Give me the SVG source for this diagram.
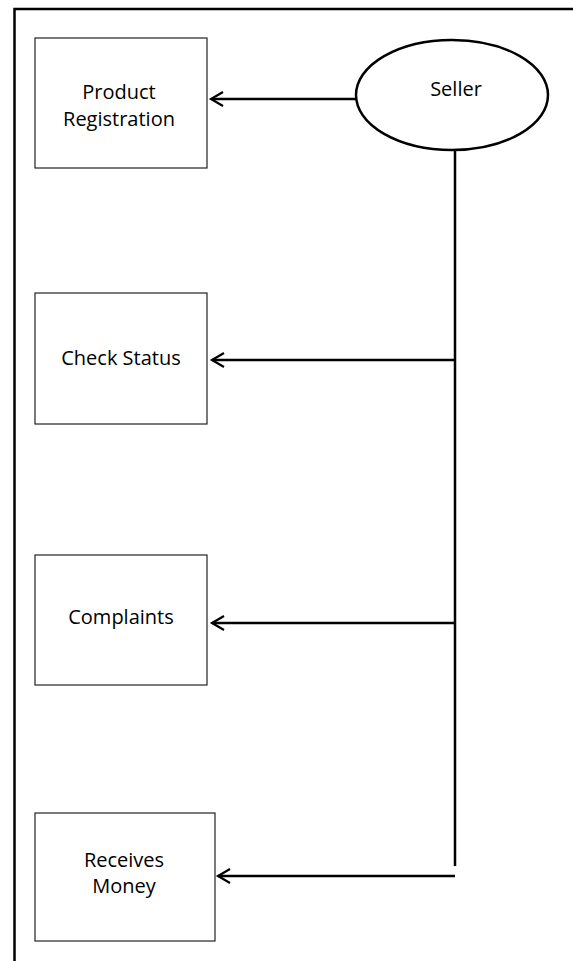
<svg xmlns="http://www.w3.org/2000/svg" width="573" height="961" viewBox="0 0 573 961">
<style>
.frame{fill:none;stroke:#000;stroke-width:2.5}
.box{fill:#fff;stroke:#222;stroke-width:1.2}
.ell{fill:#fff;stroke:#000;stroke-width:2.5}
.lbl{font-family:"Open Sans","Noto Sans",sans-serif;font-size:20px;fill:#000;text-anchor:middle}
.con{fill:none;stroke:#000;stroke-width:2.5}
</style>
<defs>
<marker id="arr" markerWidth="18" markerHeight="18" refX="14" refY="8" orient="auto" markerUnits="userSpaceOnUse">
<path d="M2,1 L14,8 L2,15" fill="none" stroke="#000" stroke-width="2.2"/>
</marker>
</defs>
<path class="frame" d="M14.5,961 L14.5,9 L573,9"/>
<g id="product-registration">
<rect class="box" x="35" y="38" width="172" height="130"/>
<text class="lbl" x="119" y="99">Product</text>
<text class="lbl" x="119" y="126">Registration</text>
</g>
<g id="seller">
<ellipse class="ell" cx="452" cy="95" rx="96" ry="55"/>
<text class="lbl" x="456" y="96">Seller</text>
</g>
<g id="check-status">
<rect class="box" x="35" y="293" width="172" height="131"/>
<text class="lbl" x="121" y="365">Check Status</text>
</g>
<g id="complaints">
<rect class="box" x="35" y="555" width="172" height="130"/>
<text class="lbl" x="121" y="624">Complaints</text>
</g>
<g id="receives-money">
<rect class="box" x="35" y="813" width="180" height="128"/>
<text class="lbl" x="124" y="867">Receives</text>
<text class="lbl" x="124" y="893">Money</text>
</g>
<g id="connectors">
<line class="con" x1="356" y1="99" x2="211" y2="99" marker-end="url(#arr)"/>
<line class="con" x1="455" y1="150" x2="455" y2="866"/>
<line class="con" x1="455" y1="360" x2="212" y2="360" marker-end="url(#arr)"/>
<line class="con" x1="455" y1="623" x2="212" y2="623" marker-end="url(#arr)"/>
<line class="con" x1="455" y1="876" x2="218" y2="876" marker-end="url(#arr)"/>
</g>
</svg>
